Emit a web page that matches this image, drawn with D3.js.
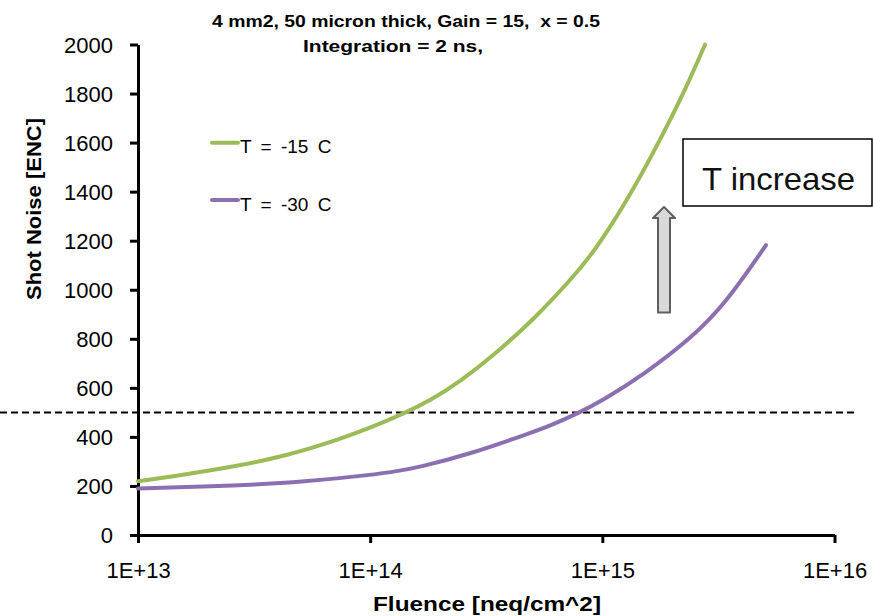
<!DOCTYPE html>
<html>
<head>
<meta charset="utf-8">
<script src="https://cdn.jsdelivr.net/npm/d3@7"></script>
<style>
  html, body { margin: 0; padding: 0; background: #fff; }
  svg { display: block; }
</style>
</head>
<body>
<svg id="chart" width="873" height="616"></svg>
<script>
// ---- data ----
const seriesNames = ["T = -15 C", "T = -30 C"];
const seriesColors = ["#9bbb59", "#8a70b0"];
const fluenceM15 = [1.0e13, 1.39e13, 2.7e13, 4.43e13, 7.26e13, 1.01e14, 1.41e14, 1.81e14, 2.44e14, 3.62e14, 5.04e14, 7.38e14, 9.14e14, 1.27e15, 1.77e15, 2.31e15, 2.77e15];
const noiseM15   = [219, 238, 281, 325, 388, 438, 497, 548, 625, 755, 877, 1045, 1150, 1358, 1608, 1828, 2000];
const fluenceM30 = [1.0e13, 2.7e13, 5.22e13, 1.01e14, 1.34e14, 1.61e14, 2.61e14, 5.04e14, 5.94e14, 8.02e14, 1.0e15, 1.5e15, 2.47e15, 3.43e15, 5.07e15];
const noiseM30   = [190, 201, 217, 245, 262, 276, 326, 420, 445, 500, 548, 652, 810, 950, 1182];
const xTickValues = [1e13, 1e14, 1e15, 1e16];
const xTickLabels = ["1E+13", "1E+14", "1E+15", "1E+16"];
const yTickValues = [0, 200, 400, 600, 800, 1000, 1200, 1400, 1600, 1800, 2000];
const thresholdValue = 500;
const titleLines = ["4 mm2, 50 micron thick, Gain = 15,  x = 0.5", "Integration = 2 ns,"];
const xTitle = "Fluence [neq/cm^2]";
const yTitle = "Shot Noise [ENC]";
const annotation = "T increase";

// ---- layout ----
const svg = d3.select("#chart");
const mLeft = 138, mRight = 834.5, mTop = 44.5, mBottom = 535;
const x = d3.scaleLog().domain([1e13, 1e16]).range([mLeft, mRight]);
const y = d3.scaleLinear().domain([0, 2000]).range([mBottom, mTop]);
const tickFont = "'Liberation Sans', Arial, sans-serif";

// dashed threshold line
svg.append("line")
  .attr("x1", 0).attr("x2", 855)
  .attr("y1", y(thresholdValue)).attr("y2", y(thresholdValue))
  .attr("stroke", "#000").attr("stroke-width", 2)
  .attr("stroke-dasharray", "7,4");

// axes
const yAxis = d3.axisLeft(y).tickValues(yTickValues).tickSize(8).tickSizeOuter(0).tickPadding(17).tickFormat(d3.format("d"));
const gy = svg.append("g").attr("transform", `translate(${mLeft},0)`).call(yAxis);
const xAxis = d3.axisBottom(x).tickValues(xTickValues).tickSize(8).tickSizeOuter(0)
  .tickFormat((d, i) => xTickLabels[i]);
const gx = svg.append("g").attr("transform", `translate(0,${mBottom})`).call(xAxis);

[gx, gy].forEach(g => {
  g.select(".domain").attr("stroke", "#000").attr("stroke-width", 3);
  g.selectAll(".tick line").attr("stroke", "#000").attr("stroke-width", 3);
  g.selectAll(".tick text").attr("fill", "#000")
    .style("font-family", tickFont).style("font-size", "22px");
});
gx.selectAll(".tick text").attr("y", 43).attr("dy", 0);
gy.selectAll(".tick text").attr("dy", "0.36em");

// series lines
const line = d3.line().x(d => x(d[0])).y(d => y(d[1])).curve(d3.curveBasis);
const seriesData = [
  d3.zip(fluenceM15, noiseM15),
  d3.zip(fluenceM30, noiseM30)
];
svg.append("g").selectAll("path").data(seriesData).join("path")
  .attr("d", line)
  .attr("fill", "none")
  .attr("stroke", (d, i) => seriesColors[i])
  .attr("stroke-width", 4)
  .attr("stroke-linecap", "round");

// legend
const legendY = [142.7, 200];
const lg = svg.append("g");
seriesNames.forEach((name, i) => {
  lg.append("line").attr("x1", 212).attr("x2", 238)
    .attr("y1", legendY[i]).attr("y2", legendY[i])
    .attr("stroke", seriesColors[i]).attr("stroke-width", 4).attr("stroke-linecap", "round");
  lg.append("text").attr("x", 240).attr("y", legendY[i] + 10.5)
    .style("font-family", tickFont).style("font-size", "19px").style("word-spacing", "4px")
    .attr("fill", "#000").text(name);
});

// titles
svg.append("text").attr("x", 406).attr("y", 27).attr("text-anchor", "middle")
  .style("font-family", tickFont).style("font-size", "17px").style("font-weight", "bold")
  .style("white-space", "pre")
  .attr("textLength", 388).attr("lengthAdjust", "spacingAndGlyphs")
  .text(titleLines[0]);
svg.append("text").attr("x", 393).attr("y", 52).attr("text-anchor", "middle")
  .style("font-family", tickFont).style("font-size", "17px").style("font-weight", "bold")
  .attr("textLength", 180).attr("lengthAdjust", "spacingAndGlyphs")
  .text(titleLines[1]);

svg.append("text").attr("x", 487).attr("y", 611).attr("text-anchor", "middle")
  .style("font-family", tickFont).style("font-size", "20px").style("font-weight", "bold")
  .attr("textLength", 228).attr("lengthAdjust", "spacingAndGlyphs")
  .text(xTitle);
svg.append("text").attr("transform", "translate(41,209) rotate(-90)").attr("text-anchor", "middle")
  .style("font-family", tickFont).style("font-size", "20px").style("font-weight", "bold")
  .attr("textLength", 182).attr("lengthAdjust", "spacingAndGlyphs")
  .text(yTitle);

// annotation box
svg.append("rect").attr("x", 683).attr("y", 139).attr("width", 189).attr("height", 67)
  .attr("fill", "#fff").attr("stroke", "#000").attr("stroke-width", 1.5);
svg.append("text").attr("x", 702).attr("y", 190)
  .style("font-family", tickFont).style("font-size", "32px").attr("fill", "#111")
  .attr("textLength", 153).attr("lengthAdjust", "spacingAndGlyphs")
  .text(annotation);

// block arrow
const arrowPts = [[664, 207], [675, 218], [670, 218], [670, 312.5], [658, 312.5], [658, 218], [653, 218]];
svg.append("polygon").attr("points", arrowPts.map(p => p.join(",")).join(" "))
  .attr("fill", "#d9d9d9").attr("stroke", "#5f5f5f").attr("stroke-width", 2).attr("stroke-linejoin", "round");
</script>
</body>
</html>
